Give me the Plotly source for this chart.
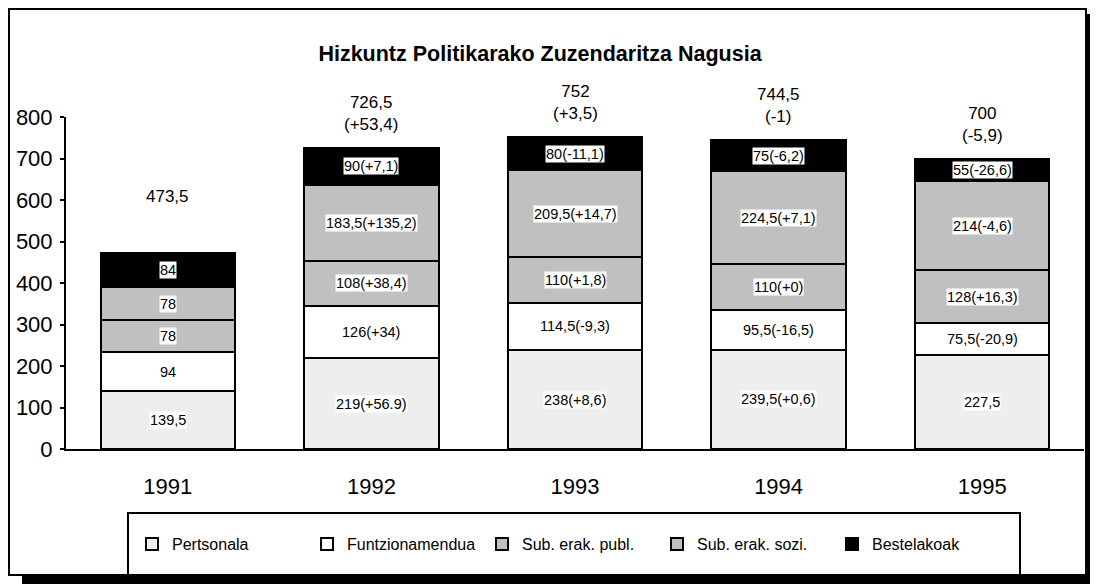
import plotly.graph_objects as go
import numpy as np

# ---------------- data ----------------
years = ["1991", "1992", "1993", "1994", "1995"]
series_names = ["Pertsonala", "Funtzionamendua", "Sub. erak. publ.", "Sub. erak. sozi.", "Bestelakoak"]
pertsonala = [139.5, 219, 238, 239.5, 227.5]
funtzionamendua = [94, 126, 114.5, 95.5, 75.5]
sub_publ = [78, 108, 110, 110, 128]
sub_sozi = [78, 183.5, 209.5, 224.5, 214]
bestelakoak = [84, 90, 80, 75, 55]

label_pertsonala = ["139,5", "219(+56.9)", "238(+8,6)", "239,5(+0,6)", "227,5"]
label_funtz = ["94", "126(+34)", "114,5(-9,3)", "95,5(-16,5)", "75,5(-20,9)"]
label_publ = ["78", "108(+38,4)", "110(+1,8)", "110(+0)", "128(+16,3)"]
label_sozi = ["78", "183,5(+135,2)", "209,5(+14,7)", "224,5(+7,1)", "214(-4,6)"]
label_beste = ["84", "90(+7,1)", "80(-11,1)", "75(-6,2)", "55(-26,6)"]
total_labels = ["473,5", "726,5<br>(+53,4)", "752<br>(+3,5)", "744,5<br>(-1)", "700<br>(-5,9)"]

y_ticks = [0, 100, 200, 300, 400, 500, 600, 700, 800]

# ---------------- styling / layout ----------------
FONT = "Liberation Sans, Arial, sans-serif"
colors = ["#eeeeee", "#ffffff", "#c0c0c0", "#c0c0c0", "#000000"]
OFF = 8                        # page body margin in the browser
W, H = 1098 - 2 * OFF, 584 - OFF
# plot area in page (screenshot) pixels
L, R, T, B = 66, 1084, 117, 449


def fx(px):
    return (px - L) / (R - L)


def fy(py):
    return (B - py) / (B - T)


series = [pertsonala, funtzionamendua, sub_publ, sub_sozi, bestelakoak]
labels = [label_pertsonala, label_funtz, label_publ, label_sozi, label_beste]
xpos = np.arange(len(years))

fig = go.Figure()
for name, vals, col in zip(series_names, series, colors):
    fig.add_trace(go.Bar(
        x=xpos, y=vals, name=name,
        marker=dict(color=col, line=dict(color="black", width=2)),
        customdata=years, hovertemplate="%{customdata}: %{y}<extra>" + name + "</extra>",
    ))

annotations = []
arr = np.array(series, dtype=float)
cum = np.cumsum(arr, axis=0)
for si in range(len(series)):
    for ci in range(len(years)):
        mid = cum[si, ci] - arr[si, ci] / 2
        annotations.append(dict(
            x=xpos[ci], y=mid, xref="x", yref="y", text=labels[si][ci], showarrow=False,
            font=dict(family=FONT, size=14.5, color="black"),
            bgcolor="white", borderpad=0,
        ))

totals = cum[-1]
total_gap_px = [45, 12, 12, 12, 12]
for ci in range(len(years)):
    annotations.append(dict(
        x=xpos[ci], y=totals[ci], xref="x", yref="y", text=total_labels[ci], showarrow=False,
        yanchor="bottom", yshift=total_gap_px[ci],
        font=dict(family=FONT, size=17, color="black"),
    ))

shapes = [
    # outer frame
    dict(type="rect", xref="paper", yref="paper", x0=fx(9), x1=fx(1086), y0=fy(575), y1=fy(9),
         line=dict(color="black", width=2), layer="below"),
    # shadow right
    dict(type="rect", xref="paper", yref="paper", x0=fx(1086), x1=fx(1091), y0=fy(585), y1=fy(14),
         line=dict(width=0), fillcolor="black"),
    # shadow bottom
    dict(type="rect", xref="paper", yref="paper", x0=fx(22), x1=fx(1091), y0=fy(585), y1=fy(576),
         line=dict(width=0), fillcolor="black"),
    # legend box
    dict(type="rect", xref="paper", yref="paper", x0=fx(128), x1=fx(1020), y0=fy(575), y1=fy(513),
         line=dict(color="black", width=2), fillcolor="white", layer="below"),
]

bounds = list(np.arange(len(years) + 1) - 0.5)

fig.update_layout(
    width=W, height=H,
    margin=dict(l=L - OFF, r=W - (R - OFF), t=T - OFF, b=H - (B - OFF), pad=0, autoexpand=False),
    paper_bgcolor="white", plot_bgcolor="white",
    barmode="stack", bargap=0.34,
    font=dict(family=FONT, color="black"),
    title=dict(text="<b>Hizkuntz Politikarako Zuzendaritza Nagusia</b>",
               x=(540 - OFF) / W, xref="container", xanchor="center",
               y=1 - (53 - OFF) / H, yref="container", yanchor="middle",
               font=dict(family=FONT, size=21.5, color="black")),
    xaxis=dict(range=[-0.5, len(years) - 0.5], tickmode="array", tickvals=xpos, ticktext=years,
               showgrid=False, showline=True, linecolor="black", linewidth=2,
               ticks="", tickfont=dict(family=FONT, size=22, color="black"), ticklabelstandoff=17,
               zeroline=False, fixedrange=True),
    xaxis2=dict(overlaying="x", anchor="y", range=[-0.5, len(years) - 0.5], showgrid=False,
                showline=False, tickmode="array", tickvals=bounds,
                ticks="outside", ticklen=7, tickwidth=1.5, tickcolor="black",
                showticklabels=False, zeroline=False),
    xaxis3=dict(overlaying="x", anchor="y", range=[-0.5, len(years) - 0.5], showgrid=False,
                showline=False, tickmode="array", tickvals=bounds,
                ticks="inside", ticklen=4, tickwidth=1.5, tickcolor="black",
                showticklabels=False, zeroline=False),
    yaxis=dict(range=[0, 800], tickmode="array", tickvals=y_ticks, showgrid=False,
               showline=True, linecolor="black", linewidth=2,
               ticks="outside", ticklen=4, tickwidth=1.5, tickcolor="black",
               tickfont=dict(family=FONT, size=22, color="black"), ticklabelstandoff=3,
               zeroline=False),
    yaxis2=dict(overlaying="y", anchor="x", side="left", range=[0, 800], tickmode="array",
                tickvals=y_ticks, showgrid=False, showline=False,
                ticks="inside", ticklen=4, tickwidth=1.5, tickcolor="black",
                showticklabels=False, zeroline=False),
    legend=dict(orientation="h", x=fx(132), xanchor="left", y=fy(544), yanchor="middle",
                entrywidth=130, entrywidthmode="pixels", traceorder="normal",
                bgcolor="rgba(0,0,0,0)", borderwidth=0,
                font=dict(family=FONT, size=16, color="black")),
    showlegend=True,
    annotations=annotations,
    shapes=shapes,
)

fig.write_html("out.html")
